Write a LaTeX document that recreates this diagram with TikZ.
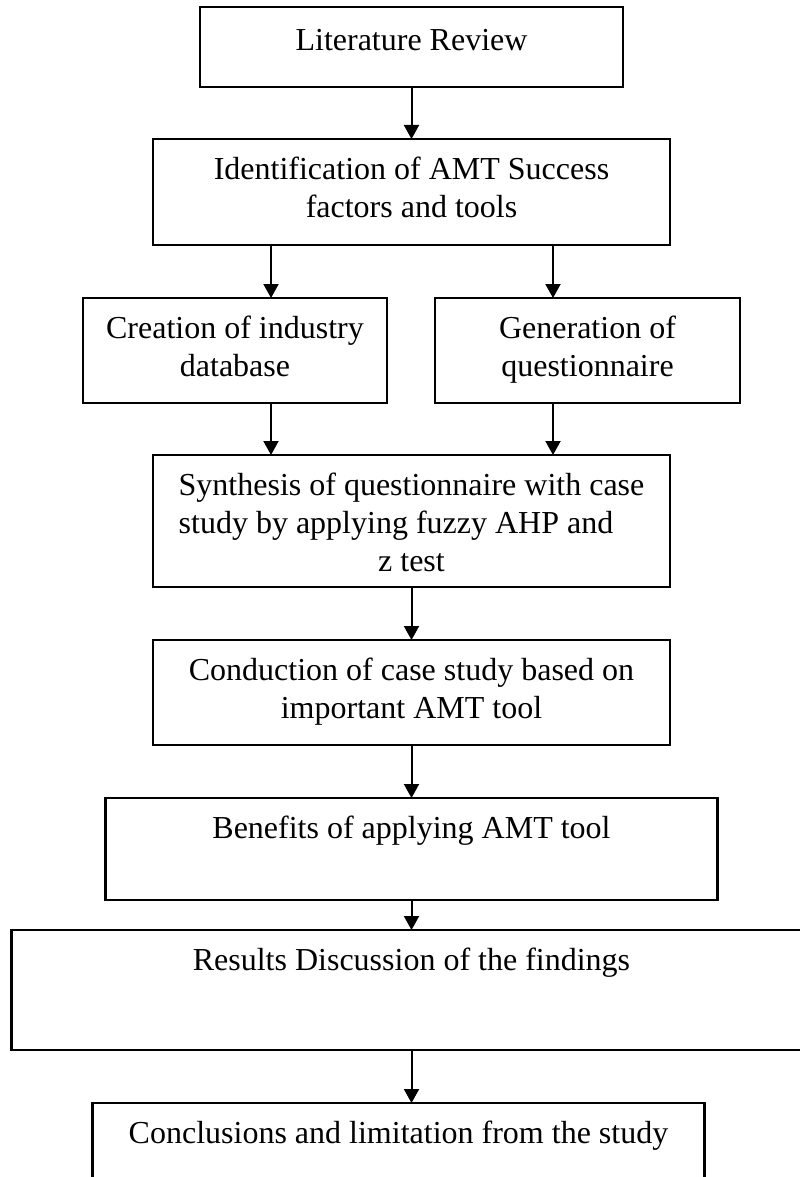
\documentclass[tikz,border=0pt]{standalone}
\usepackage{fontspec}
\setmainfont{Liberation Serif}
\usepackage{tikz}
\usetikzlibrary{arrows.meta,positioning}

\tikzset{
    stage/.style={draw, line width=1.2pt, inner xsep=0pt, inner ysep=0pt,
        outer sep=0pt, align=center, text height=20pt},
    flow/.style={->, line width=1pt}
}

\begin{document}
\begin{tikzpicture}[x=0.5pt, y=-0.5pt, >={Triangle[length=7pt,width=7.5pt]},
    font=\fontsize{16}{19}\selectfont]
        \useasboundingbox (0,0) rectangle (799,1177);

        \node (lit) [stage, anchor=north, minimum width=211.5pt, text height=22pt,
            text depth=18pt] at (411.5,7) {Literature Review};
        \node (ident) [stage, below=26pt of lit, minimum width=258.5pt,
            text height=39pt, text depth=14pt] {Identification of AMT Success\\factors and tools};

        \node (creation) [stage, anchor=north, minimum width=152pt,
            text height=39pt, text depth=13.5pt] at (235,298) {Creation of industry\\database};
        \node (generation) [stage, anchor=north, minimum width=152.5pt,
            text height=39pt, text depth=13.5pt] at (587.5,298) {Generation of\\questionnaire};

        \node (synth) [stage, anchor=north, minimum width=258.5pt,
            text height=58pt, text depth=8pt] at (411.5,455) {Synthesis of questionnaire with case\\
            \rlap{study by applying fuzzy AHP and}\phantom{Synthesis of questionnaire with case}\\
            z test};
        \node (conduct) [stage, below=26.5pt of synth, minimum width=258.5pt,
            text height=39pt, text depth=13.5pt] {Conduction of case study based on\\important AMT tool};
        \node (benefits) [stage, below=26.5pt of conduct, minimum width=306pt,
            text depth=31pt] {Benefits of applying AMT tool};
        \node (results) [stage, below=15pt of benefits, minimum width=400pt,
            text depth=40pt] {Results Discussion of the findings};
        \node (concl) [stage, below=26.5pt of results, xshift=-6.5pt, minimum width=306pt,
            text depth=40pt] {Conclusions and limitation from the study};

        \coordinate (xl) at (271,0);
        \coordinate (xr) at (553,0);

        \draw[flow] (lit) -- (ident);
        \draw[flow] (ident.south -| xl) -- (creation.north -| xl);
        \draw[flow] (ident.south -| xr) -- (generation.north -| xr);
        \draw[flow] (creation.south -| xl) -- (synth.north -| xl);
        \draw[flow] (generation.south -| xr) -- (synth.north -| xr);
        \draw[flow] (synth) -- (conduct);
        \draw[flow] (conduct) -- (benefits);
        \draw[flow] (benefits) -- (results);
        \draw[flow] (results.south) -- (results.south |- concl.north);

\end{tikzpicture}
\end{document}
